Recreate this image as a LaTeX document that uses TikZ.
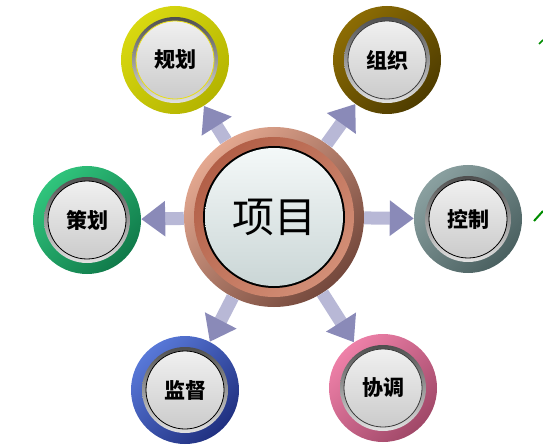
\documentclass[tikz,border=0pt]{standalone}
\usepackage{fontspec}
\newfontfamily\cjk{Noto Sans CJK SC}
\usetikzlibrary{arrows.meta}

\definecolor{arrowlight}{HTML}{B8B8D6}
\definecolor{arrowdark}{HTML}{8A8AB8}
\definecolor{metaltop}{HTML}{3C3C3C}
\definecolor{metalbot}{HTML}{F4F4F4}
\definecolor{disktop}{HTML}{F0F0F0}
\definecolor{diskbot}{HTML}{CBCBCB}
\definecolor{hubtop}{HTML}{E4A890}
\definecolor{hubbot}{HTML}{74483C}
\definecolor{hubband}{HTML}{B05C44}
\definecolor{hubdisktop}{HTML}{F4F8F8}
\definecolor{hubdiskbot}{HTML}{CAD6D6}
\definecolor{plantop}{HTML}{D8D810}
\definecolor{planbot}{HTML}{B4B400}
\definecolor{orgtop}{HTML}{8C6C04}
\definecolor{orgbot}{HTML}{4E3C00}
\definecolor{schemetop}{HTML}{30C47C}
\definecolor{schemebot}{HTML}{107A4A}
\definecolor{ctrltop}{HTML}{8AA0A0}
\definecolor{ctrlbot}{HTML}{4A6060}
\definecolor{watchtop}{HTML}{5878D8}
\definecolor{watchbot}{HTML}{203080}
\definecolor{coordtop}{HTML}{EE80A8}
\definecolor{coordbot}{HTML}{A04868}

\tikzset{
	spoke/.style n args={3}{circle, inner sep=0pt, minimum size=108pt,
			top color=#1, bottom color=#2, shading angle=45,
			font=\cjk\bfseries\fontsize{21}{24}\selectfont,
			path picture={
					\shade[top color=metaltop, bottom color=metalbot]
					(path picture bounding box.center) circle (43pt);
					\shade[top color=disktop, bottom color=diskbot, draw=#3, line width=0.8pt]
					(path picture bounding box.center) circle (39pt);
				}},
	hub/.style={circle, inner sep=0pt, minimum size=180pt,
			top color=hubtop, bottom color=hubbot, shading angle=45,
			font=\cjk\fontsize{42}{46}\selectfont,
			path picture={
					\shade[top color=hubband, bottom color=hubtop!70!hubband, shading angle=45]
					(path picture bounding box.center) circle (80pt);
					\fill[black] (path picture bounding box.center) circle (71pt);
					\shade[top color=hubdisktop, bottom color=hubdiskbot]
					(path picture bounding box.center) circle (69pt);
				}},
	flow/.style={draw=arrowlight, line width=13pt,
			-{Triangle[width=34pt,length=24pt,fill=arrowdark,color=arrowdark]}}
}

\begin{document}
\begin{tikzpicture}[x=1pt,y=-1pt]
		\useasboundingbox (0,0) rectangle (543,446);

		\node[hub] (proj) at (274,217) {项目};

		\node[spoke={plantop}{planbot}{yellow!90!black}] (plan) at (175,60) {规划}; % top left
		\node[spoke={orgtop}{orgbot}{metaltop}] (org) at (387,60) {组织}; % top right
		\node[spoke={schemetop}{schemebot}{black}] (scheme) at (87,220) {策划}; % left
		\node[spoke={ctrltop}{ctrlbot}{black}] (ctrl) at (468,219) {控制}; % right
		\node[spoke={watchtop}{watchbot}{black}] (watch) at (185,390) {监督}; % bottom left
		\node[spoke={coordtop}{coordbot}{metaltop}] (coord) at (383,388) {协调}; % bottom right

		% arrows out of the hub
		\draw[flow] (proj) -- (plan);
		\draw[flow] (proj) -- (org);
		\draw[flow] (proj) -- (scheme);
		\draw[flow] (proj) -- (ctrl);
		\draw[flow] (proj) -- (watch);
		\draw[flow] (proj) -- (coord);

		% cut-off green strokes at the right edge
		\draw[green!55!black, line width=1.5pt] (539,44) -- (543,40);
		\draw[green!55!black, line width=2pt] (534,221) -- (543,211);

	\end{tikzpicture}
\end{document}
